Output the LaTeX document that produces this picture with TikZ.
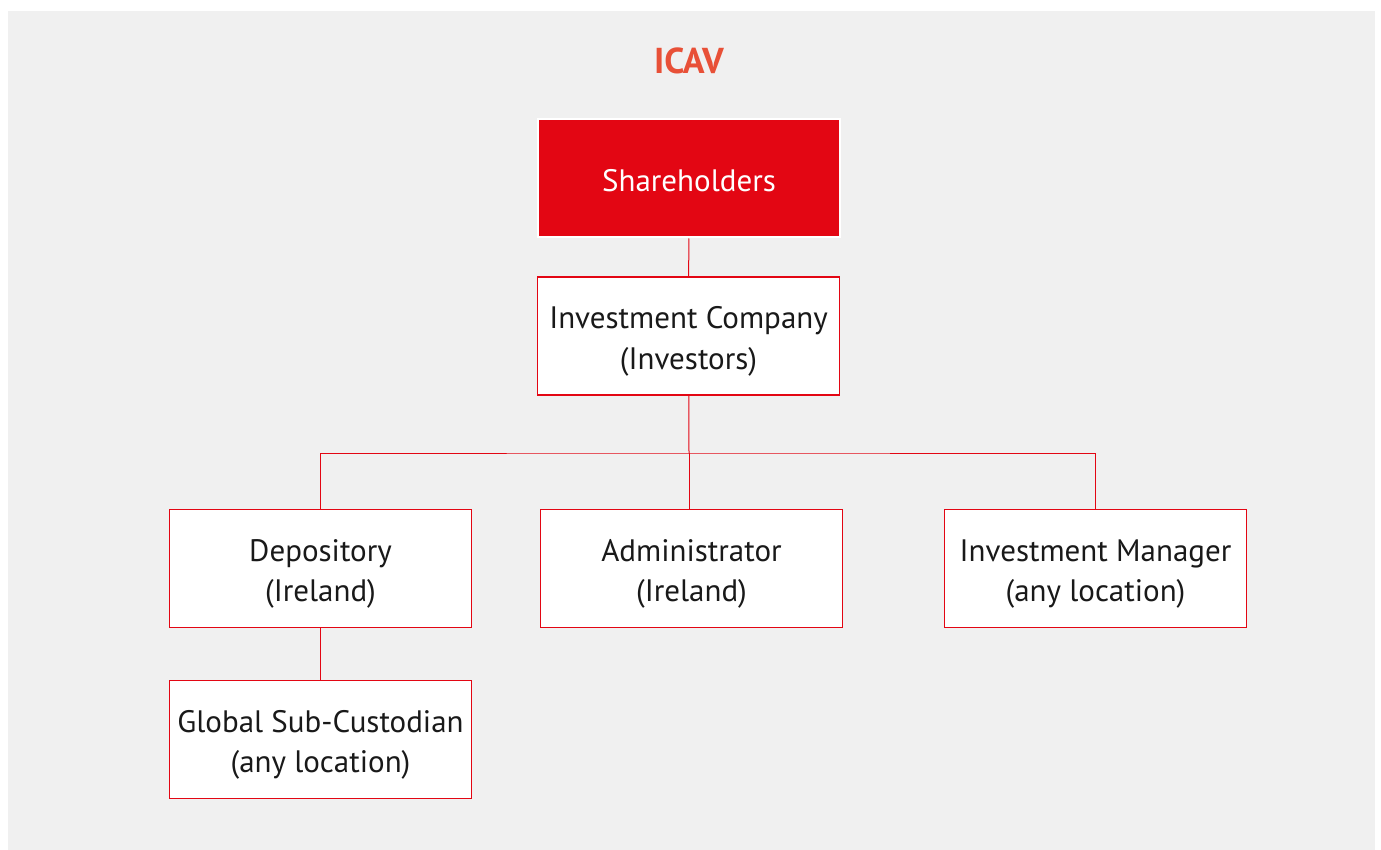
\documentclass[tikz,border=0pt]{standalone}
\usepackage{fontspec}
\setmainfont{PT Sans}
\usepackage{tikz}
\usetikzlibrary{positioning}
\usepackage{xcolor}
\definecolor{icavred}{RGB}{227,6,19}
\definecolor{icavtitle}{RGB}{232,80,55}
\definecolor{icavgray}{RGB}{240,240,240}
\newcommand{\twolines}[2]{\raisebox{-2.5pt}[\height][\depth]{\begin{tabular}{@{}c@{}}#1\\#2\end{tabular}}}
\tikzset{
  entity/.style={draw=icavred, line width=0.6pt, fill=white, minimum width=151pt,
    minimum height=59pt, inner sep=0pt, text=black!90,
    font=\fontsize{15.5}{20}\selectfont},
  topentity/.style={entity, draw=white, line width=1pt, fill=icavred, text=white},
  link/.style={icavred, line width=0.5pt}
}

\begin{document}
\begin{tikzpicture}[x=0.5pt, y=-0.5pt]
\useasboundingbox (0,0) rectangle (1381,850);
% Background
\fill[icavgray] (8,11) rectangle (1375,850);

% Title
\node[font=\fontsize{18}{20}\selectfont\bfseries, text=icavtitle] (title) at (689,61) {ICAV};

% Entities
\node[topentity] (shareholders) at (689,178.5) {\raisebox{-1pt}[\height][\depth]{Shareholders}};
\node[entity] (invco) at (688.5,336) {\twolines{Investment Company}{(Investors)}};
\node[entity] (depository) at (320.5,568.5) {\twolines{Depository}{(Ireland)}};
\node[entity] (admin) at (691.5,568.5) {\twolines{Administrator}{(Ireland)}};
\node[entity] (invmgr) at (1095.5,568.5) {\twolines{Investment Manager}{(any location)}};
\node[entity] (subcust) at (320.5,739.5) {\twolines{Global Sub-Custodian}{(any location)}};

% Connectors
\coordinate (bus) at (689,453);
\draw[link] (shareholders) -- (invco);
\draw[link] (invco) -- (bus);
\draw[link] (depository.north) |- (bus) -| (invmgr.north);
\draw[link] (bus) -- (bus |- admin.north);
\draw[link] (depository) -- (subcust);
\end{tikzpicture}
\end{document}
